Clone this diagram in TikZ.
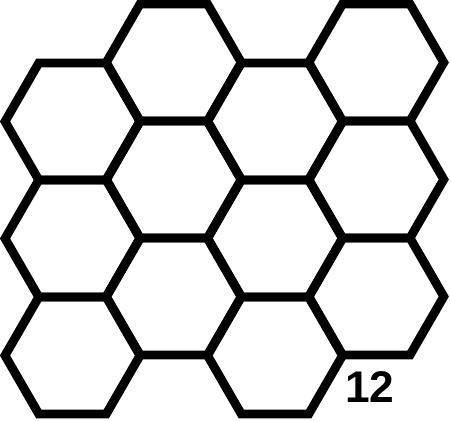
\documentclass[tikz,border=0pt]{standalone}
\usepackage{fontspec}
\setmainfont{Liberation Sans}
\usetikzlibrary{
    shapes.geometric
}
\tikzset{
  every path/.style={
    black,
    line width=8.4pt
  },
  hexa/.style={
    draw,
    line width=8.4pt,
    regular polygon,
    regular polygon sides=6,
    minimum size=4.5cm,
    inner sep=0pt,
    outer sep=0pt
  }
}

\begin{document}
\begin{tikzpicture}
    \useasboundingbox (0,0) rectangle (15.033,14);
    % 左の列
    \node[hexa] (A1) at (2.417,9.95) {};
    \node[hexa] (A2) at (2.417,6.05) {};
    \node[hexa] (A3) at (2.417,2.15) {};
    % 二番目の列
    \node[hexa] (B1) at (5.792,11.917) {};
    \node[hexa] (B2) at (5.792,8.017) {};
    \node[hexa] (B3) at (5.792,4.117) {};
    % 三番目の列
    \node[hexa] (C1) at (9.167,9.95) {};
    \node[hexa] (C2) at (9.167,6.05) {};
    \node[hexa] (C3) at (9.167,2.15) {};
    % 右の列
    \node[hexa] (D1) at (12.542,11.917) {};
    \node[hexa] (D2) at (12.542,8.017) {};
    \node[hexa] (D3) at (12.542,4.117) {};

    % 番号
    \node[inner sep=0pt] (N) at (12.33,1.1) {\fontsize{42}{42}\selectfont\bfseries 12};
\end{tikzpicture}
\end{document}
